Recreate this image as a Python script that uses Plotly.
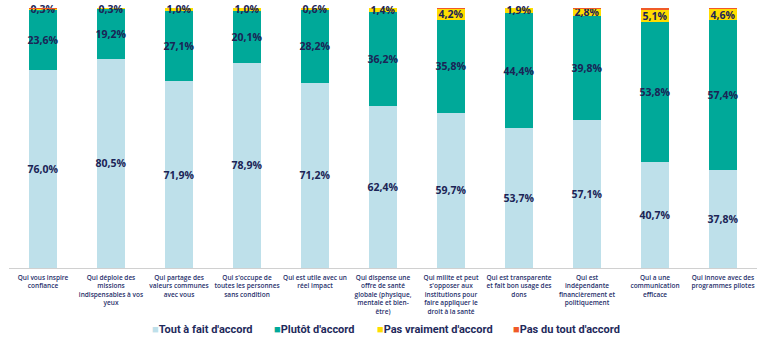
import plotly.graph_objects as go

categories = [
    "Qui vous inspire<br>confiance",
    "Qui déploie des<br>missions<br>indispensables à vos<br>yeux",
    "Qui partage des<br>valeurs communes<br>avec vous",
    "Qui s'occupe de<br>toutes les personnes<br>sans condition",
    "Qui est utile avec un<br>réel impact",
    "Qui dispense une<br>offre de santé<br>globale (physique,<br>mentale et bien-<br>être)",
    "Qui milite et peut<br>s'opposer aux<br>institutions pour<br>faire appliquer le<br>droit à la santé",
    "Qui est transparente<br>et fait bon usage des<br>dons",
    "Qui est<br>indépendante<br>financièrement et<br>politiquement",
    "Qui a une<br>communication<br>efficace",
    "Qui innove avec des<br>programmes pilotes",
]
tout_a_fait = [76.0, 80.5, 71.9, 78.9, 71.2, 62.4, 59.7, 53.7, 57.1, 40.7, 37.8]
plutot = [23.6, 19.2, 27.1, 20.1, 28.2, 36.2, 35.8, 44.4, 39.8, 53.8, 57.4]
pas_vraiment = [0.3, 0.3, 1.0, 1.0, 0.6, 1.4, 4.2, 1.9, 2.8, 5.1, 4.6]
pas_du_tout = [0.1, 0.0, 0.0, 0.0, 0.0, 0.0, 0.3, 0.0, 0.3, 0.4, 0.2]

series_names = ["Tout à fait d'accord", "Plutôt d'accord", "Pas vraiment d'accord", "Pas du tout d'accord"]
series_values = [tout_a_fait, plutot, pas_vraiment, pas_du_tout]
series_colors = ["#BEE0EA", "#00A999", "#FFDD00", "#F05A28"]
series_labelled = [True, True, True, False]

# legend item left edges (pixels) for the manual legend row
legend_px = [150, 272, 375, 511]

def fmt(v):
    return f"<b>{v:.1f}%</b>".replace(".", ",")

label_color = "#1B2456"
tick_color = "#27306B"
L, R, T, B, W, H = 9, 11, 8, 78, 768, 346
plot_w = W - L - R
plot_h = H - T - B

fig = go.Figure()
for name, vals, color, show in zip(series_names, series_values, series_colors, series_labelled):
    fig.add_trace(go.Bar(
        x=categories, y=vals, name=name,
        marker=dict(color=color, line=dict(width=0)),
        text=[fmt(v) for v in vals] if show else None,
        textposition="inside" if show else "none",
        insidetextanchor="middle",
        textangle=0,
        cliponaxis=False,
        textfont=dict(size=10.5, color=label_color, family="Open Sans"),
        hoverinfo="skip",
        showlegend=False,
    ))

annotations = []
for name, color, px in zip(series_names, series_colors, legend_px):
    annotations.append(dict(
        xref="paper", yref="paper",
        x=(px - L) / plot_w, y=-(329 - (T + plot_h)) / plot_h,
        xanchor="left", yanchor="middle",
        text=f"<span style='font-size:11px;color:{color}'>■</span><b>{name}</b>",
        showarrow=False,
        font=dict(size=11, color="#1F2A5C", family="Roboto"),
    ))

fig.update_layout(
    barmode="stack",
    bargap=0.6,
    width=W, height=H,
    margin=dict(l=L, r=R, t=T, b=B, autoexpand=False),
    paper_bgcolor="white", plot_bgcolor="white",
    font=dict(family="Open Sans", color=tick_color),
    uniformtext=dict(minsize=10.5, mode="show"),
    showlegend=False,
    annotations=annotations,
)
fig.update_xaxes(
    tickfont=dict(size=6.5, color=tick_color, family="Open Sans", weight=600),
    tickangle=0, showline=True, linecolor="#D0D0D0", linewidth=1, ticks="",
    showgrid=False, automargin=False, ticklabelstandoff=3,
    tickmode="array", tickvals=categories, ticktext=categories,
)
fig.update_yaxes(visible=False, range=[0, 100], showgrid=False, automargin=False)

fig.write_html("out.html")
